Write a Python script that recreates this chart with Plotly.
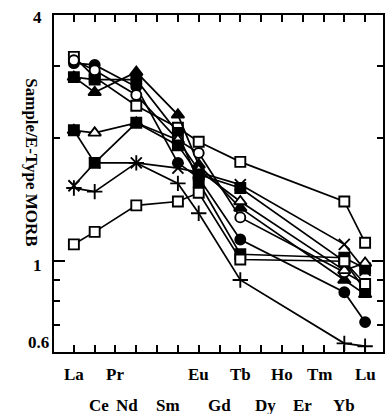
import math
import plotly.graph_objects as go

# Rare-earth elements (axis order, Pm has a tick but no label)
elements = ["La", "Ce", "Pr", "Nd", "Pm", "Sm", "Eu", "Gd", "Tb", "Dy", "Ho", "Er", "Tm", "Yb", "Lu"]
top_row = ["La", "Pr", "Eu", "Tb", "Ho", "Tm", "Lu"]
bottom_row = ["Ce", "Nd", "Sm", "Gd", "Dy", "Er", "Yb"]

# Elements analysed for each sample
measured = ["La", "Ce", "Nd", "Sm", "Eu", "Tb", "Yb", "Lu"]

# Sample / E-type MORB values
s_a = [3.16, 2.82, 2.40, 2.12, 1.96, 1.75, 1.40, 1.11]
s_b = [3.05, 3.02, 2.67, 1.74, 1.60, 1.13, 0.84, 0.71]
s_c = [2.82, 2.59, 2.90, 2.28, 1.72, 1.35, 0.90, 0.83]
s_d = [2.82, 2.78, 2.78, 2.06, 1.56, 1.04, 1.02, 0.96]
s_e = [3.10, 2.93, 2.55, 1.98, 1.84, 1.28, 0.94, 0.88]
s_g = [2.09, 2.06, 2.18, 1.98, 1.67, 1.40, 0.95, 0.99]
s_h = [2.09, 1.74, 2.18, 1.92, 1.63, 1.51, 1.00, 0.85]
s_i = [1.53, 1.74, 1.74, 1.69, 1.65, 1.54, 1.10, 0.95]
s_j = [1.51, 1.48, 1.74, 1.55, 1.31, 0.90, 0.63, 0.62]
s_k = [1.10, 1.18, 1.37, 1.40, 1.47, 1.01, 1.00, 0.88]

y_tick_vals = [0.6, 1, 4]
y_tick_text = ["0.6", "1", "4"]
y_minor_vals = [0.7, 0.8, 0.9, 2, 3]

FONT = "Liberation Serif"

series = [
    (s_a, "square", "white", 10),
    (s_b, "circle", "black", 10),
    (s_c, "triangle-up", "black", 11),
    (s_d, "square", "black", 10),
    (s_e, "circle", "white", 10),
    (s_g, "triangle-up", "white", 11),
    (s_h, "square", "black", 10),
    (s_i, "x-thin", "black", 11),
    (s_j, "cross-thin", "black", 11),
    (s_k, "square", "white", 10),
]

xpos = [elements.index(e) for e in measured]

fig = go.Figure()
for vals, sym, fill, size in series:
    fig.add_trace(go.Scatter(
        x=xpos, y=vals, mode="lines+markers",
        line=dict(color="black", width=1.7),
        marker=dict(symbol=sym, size=size, color=fill,
                    line=dict(color="black", width=1.9)),
        showlegend=False,
    ))

bold = dict(family=FONT, size=17, color="black")
annotations = []
nudge = {"Nd": -9, "Sm": -10, "Ce": 4, "Dy": 4, "Tm": -4}
for lab in top_row:
    annotations.append(dict(x=elements.index(lab), y=0, xref="x", yref="paper",
                            text=f"<b>{lab}</b>", showarrow=False, yanchor="middle",
                            xshift=nudge.get(lab, 0), yshift=-22, font=bold))
for lab in bottom_row:
    annotations.append(dict(x=elements.index(lab), y=0, xref="x", yref="paper",
                            text=f"<b>{lab}</b>", showarrow=False, yanchor="middle",
                            xshift=nudge.get(lab, 0), yshift=-53, font=bold))
yshifts = {"0.6": 10, "1": -4, "4": -2}
for v, t in zip(y_tick_vals, y_tick_text):
    annotations.append(dict(x=0, y=math.log10(v), xref="paper", yref="y",
                            text=f"<b>{t}</b>", showarrow=False, xanchor="right",
                            yanchor="middle", xshift=-10 if t != "0.6" else -3,
                            yshift=yshifts[t], font=bold))

plot_l, plot_t, plot_w, plot_h = 54, 15, 331, 337
annotations.append(dict(x=(20 - plot_l) / plot_w, y=1 - (162 - plot_t) / plot_h,
                        xref="paper", yref="paper", text="<b>Sample/E-Type MORB</b>",
                        showarrow=False, textangle=90, font=bold))

fig.update_layout(
    width=388, height=414,
    margin=dict(l=54, r=3, t=15, b=62),
    paper_bgcolor="white", plot_bgcolor="white",
    annotations=annotations,
    xaxis=dict(range=[-0.956, 14.86], tickvals=list(range(len(elements))),
               showticklabels=False, ticks="inside", ticklen=7, tickwidth=1.5,
               tickcolor="black", showline=True, linecolor="black", linewidth=2,
               mirror="ticks", showgrid=False, zeroline=False),
    yaxis=dict(type="log", range=[math.log10(0.6), math.log10(4)],
               tickvals=y_tick_vals, showticklabels=False, ticks="inside",
               ticklen=11, tickwidth=1.5, tickcolor="black",
               minor=dict(tickvals=y_minor_vals, ticks="inside", ticklen=6,
                          tickwidth=1.5, tickcolor="black", showgrid=False),
               showline=True, linecolor="black", linewidth=2, mirror="ticks",
               showgrid=False, zeroline=False),
)

fig.write_html("out.html")
